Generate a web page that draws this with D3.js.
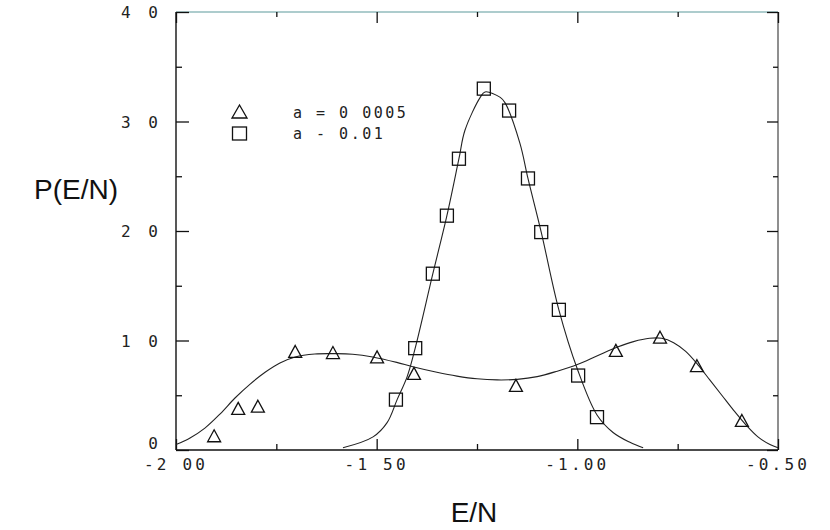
<!DOCTYPE html>
<html>
<head>
<meta charset="utf-8">
<script src="https://cdn.jsdelivr.net/npm/d3@7"></script>
<style>
  html, body { margin: 0; padding: 0; background: #fff; }
  svg { display: block; }
</style>
</head>
<body>
<svg id="chart" width="830" height="530"></svg>
<script>
// ---- data ----
const triX = [-1.905, -1.845, -1.796, -1.703, -1.609, -1.499, -1.407, -1.153, -0.904, -0.794, -0.702, -0.590];
const triY = [0.13, 0.38, 0.40, 0.90, 0.89, 0.85, 0.70, 0.59, 0.91, 1.03, 0.77, 0.27];

const sqX = [-1.452, -1.404, -1.360, -1.325, -1.295, -1.233, -1.170, -1.123, -1.090, -1.046, -0.998, -0.951];
const sqY = [0.46, 0.93, 1.61, 2.14, 2.66, 3.30, 3.10, 2.48, 1.99, 1.28, 0.68, 0.30];

const triCurveX = [-2.00, -1.965, -1.928, -1.890, -1.853, -1.816, -1.778, -1.741, -1.703, -1.654, -1.604, -1.56, -1.51, -1.45, -1.41, -1.35, -1.30, -1.25, -1.20, -1.15, -1.10, -1.05, -1.00, -0.95, -0.90, -0.86, -0.82, -0.79, -0.76, -0.73, -0.70, -0.67, -0.64, -0.61, -0.58, -0.55, -0.52, -0.50];
const triCurveY = [0.05, 0.11, 0.20, 0.33, 0.475, 0.60, 0.71, 0.795, 0.85, 0.877, 0.88, 0.875, 0.85, 0.80, 0.76, 0.71, 0.675, 0.65, 0.64, 0.645, 0.67, 0.72, 0.78, 0.86, 0.94, 0.99, 1.02, 1.02, 0.98, 0.90, 0.78, 0.64, 0.50, 0.36, 0.23, 0.12, 0.05, 0.02];

const sqCurveX = [-1.584, -1.509, -1.474, -1.449, -1.424, -1.404, -1.360, -1.325, -1.295, -1.280, -1.242, -1.230, -1.192, -1.180, -1.143, -1.123, -1.090, -1.046, -1.000, -0.951, -0.911, -0.869, -0.836];
const sqCurveY = [0.02, 0.12, 0.25, 0.46, 0.67, 0.93, 1.61, 2.14, 2.66, 2.92, 3.22, 3.27, 3.22, 3.17, 2.80, 2.48, 1.99, 1.28, 0.74, 0.32, 0.16, 0.07, 0.02];

const xMajor = [-2.00, -1.50, -1.00, -0.50];
const xMinor = [-1.75, -1.25, -0.75];
const xTickLabels = ["-2 00", "-1 50", "-1.00", "-0.50"];
const yMajor = [0, 1, 2, 3, 4];
const yMinor = [0.5, 1.5, 2.5, 3.5];
const yTickLabels = ["0", "1 0", "2 0", "3 0", "4 0"];
const legendLabels = ["a = 0 0005", "a - 0.01"];

// ---- layout ----
const svg = d3.select("#chart");
const L = 176, R = 778, T = 12, B = 450;
const x = d3.scaleLinear().domain([-2.0, -0.5]).range([L, R]);
const y = d3.scaleLinear().domain([0, 4.0]).range([B, T]);
const ink = "#111";

// frame
svg.append("line").attr("x1", L).attr("x2", R).attr("y1", T).attr("y2", T)
  .attr("stroke", "#5c9a9c").attr("stroke-width", 1.2);
svg.append("line").attr("x1", L).attr("x2", L).attr("y1", T).attr("y2", B)
  .attr("stroke", ink).attr("stroke-width", 1.4);
svg.append("line").attr("x1", R).attr("x2", R).attr("y1", T).attr("y2", B)
  .attr("stroke", "#333").attr("stroke-width", 1.1);
svg.append("line").attr("x1", L).attr("x2", R).attr("y1", B).attr("y2", B)
  .attr("stroke", ink).attr("stroke-width", 1.4);

// axes via d3 (ticks only, drawn inward)
const axBottomMaj = d3.axisTop(x).tickValues(xMajor).tickSize(11).tickFormat("");
const axBottomMin = d3.axisTop(x).tickValues(xMinor).tickSize(6).tickFormat("");
const axTopMaj = d3.axisBottom(x).tickValues(xMajor).tickSize(11).tickFormat("");
const axTopMin = d3.axisBottom(x).tickValues(xMinor).tickSize(5).tickFormat("");
const axLeftMaj = d3.axisRight(y).tickValues(yMajor).tickSize(13).tickFormat("");
const axLeftMin = d3.axisRight(y).tickValues(yMinor).tickSize(6).tickFormat("");
const axRightMaj = d3.axisLeft(y).tickValues(yMajor).tickSize(11).tickFormat("");
const axRightMin = d3.axisLeft(y).tickValues(yMinor).tickSize(5).tickFormat("");

function addAxis(ax, tx, ty) {
  const g = svg.append("g").attr("transform", `translate(${tx},${ty})`).call(ax);
  g.select(".domain").remove();
  g.selectAll(".tick line").attr("stroke", ink).attr("stroke-width", 1.3);
  return g;
}
addAxis(axBottomMaj, 0, B);
addAxis(axBottomMin, 0, B);
addAxis(axTopMaj, 0, T);
addAxis(axTopMin, 0, T);
addAxis(axLeftMaj, L, 0);
addAxis(axLeftMin, L, 0);
addAxis(axRightMaj, R, 0);
addAxis(axRightMin, R, 0);

// tick labels
const tickFont = "'DejaVu Sans Mono', monospace";
svg.append("g").selectAll("text").data(xMajor).join("text")
  .attr("x", d => x(d))
  .attr("y", 470)
  .attr("text-anchor", "middle")
  .attr("font-family", tickFont)
  .attr("font-size", 16)
  .attr("letter-spacing", "3.2px")
  .attr("fill", "#222")
  .text((d, i) => xTickLabels[i]);

svg.append("g").selectAll("text").data(yMajor).join("text")
  .attr("x", 162)
  .attr("y", d => y(d) + (d === 0 ? -1 : 6))
  .attr("text-anchor", "end")
  .attr("font-family", tickFont)
  .attr("font-size", 16)
  .attr("letter-spacing", "4px")
  .attr("fill", "#222")
  .text((d, i) => yTickLabels[i]);

// axis titles
svg.append("text").attr("x", 34).attr("y", 199)
  .attr("font-family", "'Liberation Sans', Arial, sans-serif")
  .attr("font-size", 28).attr("fill", "#111").text("P(E/N)");
svg.append("text").attr("x", 474).attr("y", 522).attr("text-anchor", "middle")
  .attr("font-family", "'Liberation Sans', Arial, sans-serif")
  .attr("font-size", 28).attr("fill", "#111").text("E/N");

// curves
const line = d3.line().x(d => x(d[0])).y(d => y(d[1])).curve(d3.curveCatmullRom.alpha(0.5));
svg.append("path").datum(triCurveX.map((v, i) => [v, triCurveY[i]]))
  .attr("d", line).attr("fill", "none").attr("stroke", "#222").attr("stroke-width", 1.1);
svg.append("path").datum(sqCurveX.map((v, i) => [v, sqCurveY[i]]))
  .attr("d", line).attr("fill", "none").attr("stroke", "#222").attr("stroke-width", 1.1);

// markers
function triPath(cx, cy, w, h) {
  return `M${cx},${cy - h / 2}L${cx + w / 2},${cy + h / 2}L${cx - w / 2},${cy + h / 2}Z`;
}
svg.append("g").selectAll("path").data(triX.map((v, i) => [v, triY[i]])).join("path")
  .attr("d", d => triPath(x(d[0]), y(d[1]), 13, 12))
  .attr("fill", "none").attr("stroke", "#111").attr("stroke-width", 1.3);
svg.append("g").selectAll("rect").data(sqX.map((v, i) => [v, sqY[i]])).join("rect")
  .attr("x", d => x(d[0]) - 6.5).attr("y", d => y(d[1]) - 6.5)
  .attr("width", 13).attr("height", 13)
  .attr("fill", "none").attr("stroke", "#111").attr("stroke-width", 1.3);

// legend
svg.append("path").attr("d", triPath(239.5, 111.5, 15, 13))
  .attr("fill", "none").attr("stroke", "#111").attr("stroke-width", 1.3);
svg.append("rect").attr("x", 232.5).attr("y", 127).attr("width", 14).attr("height", 13)
  .attr("fill", "none").attr("stroke", "#111").attr("stroke-width", 1.3);
svg.append("g").selectAll("text").data(legendLabels).join("text")
  .attr("x", 293)
  .attr("y", (d, i) => 118 + i * 21)
  .attr("font-family", tickFont)
  .attr("font-size", 15)
  .attr("letter-spacing", "2.5px")
  .attr("fill", "#222")
  .text(d => d);
</script>
</body>
</html>
